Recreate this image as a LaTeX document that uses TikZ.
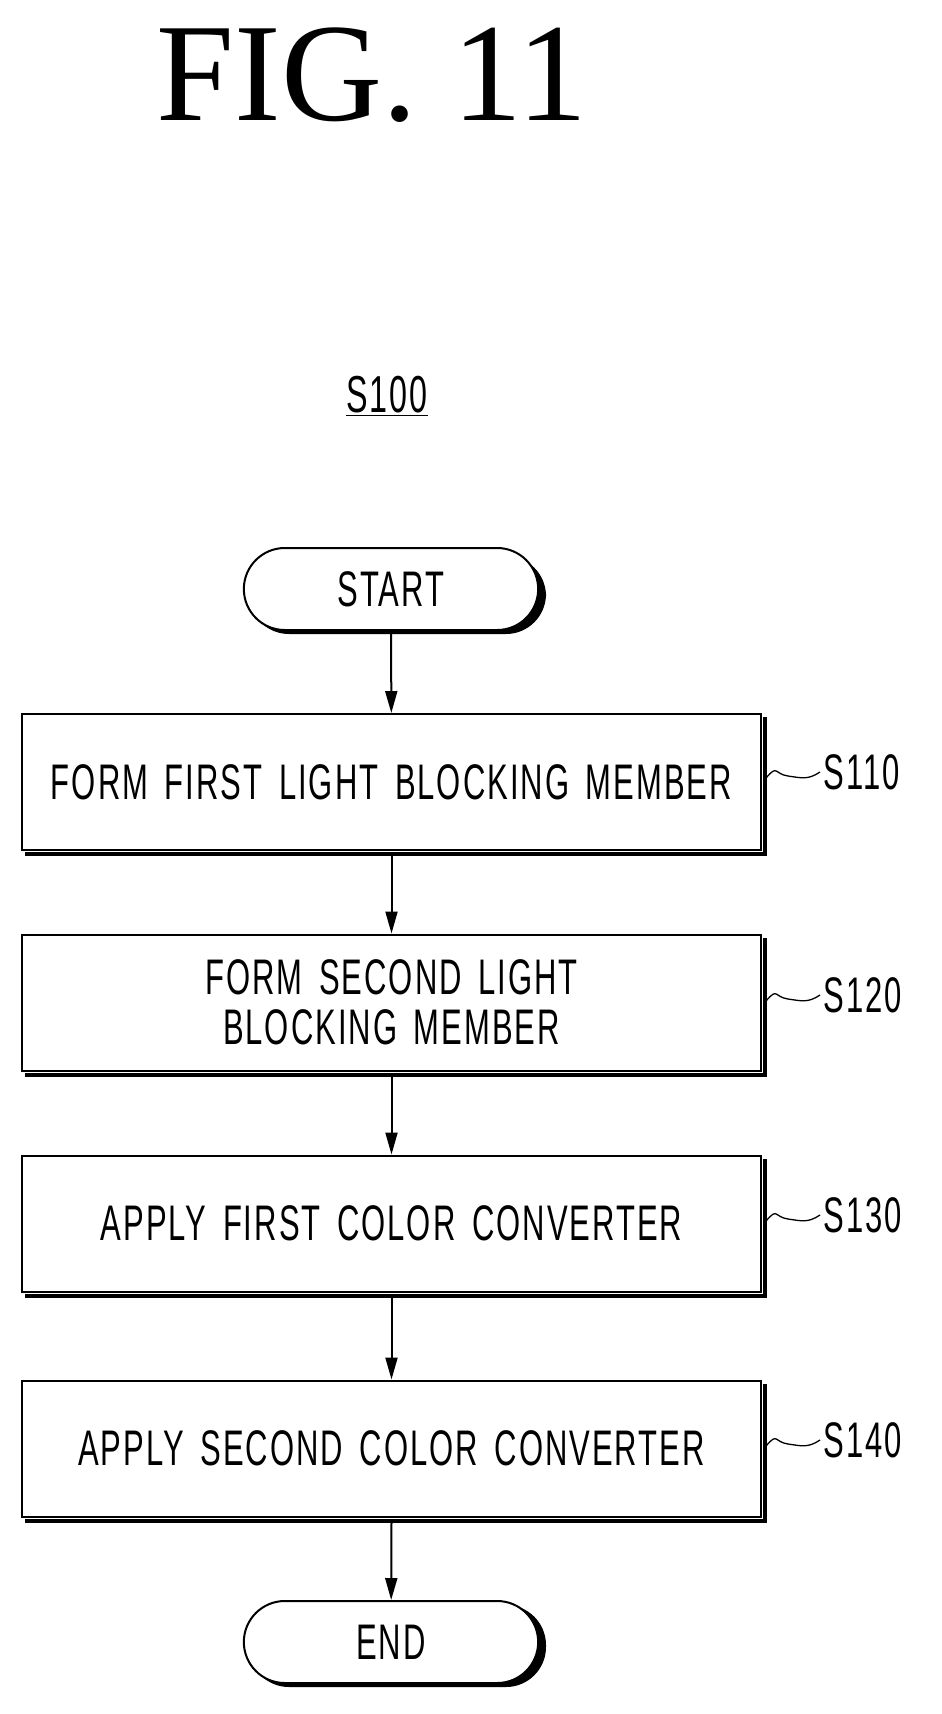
\documentclass[tikz,border=0pt]{standalone}
\usepackage{fontspec}
\setmainfont{Liberation Serif}
\newfontfamily\cond[FakeStretch=0.62,LetterSpace=4,WordSpace=1.5]{Liberation Sans}
\usetikzlibrary{arrows.meta,shapes.misc}
\begin{document}
\begin{tikzpicture}[x=1pt,y=-1pt,
  sbox/.style={draw,line width=2pt,minimum width=739pt,minimum height=136pt,fill=white,
    text width=720pt,align=center,inner sep=0pt,
    font=\cond\fontsize{50}{50}\selectfont},
  term/.style={draw,line width=2pt,rounded rectangle,minimum width=301pt,minimum height=82pt,fill=white,
    font=\cond\fontsize{50}{50}\selectfont},
  arr/.style={-{Triangle[length=22pt,width=12pt]},line width=2pt},
  lab/.style={font=\cond\fontsize{50}{50}\selectfont,anchor=west},
  tl/.style={line width=1.3pt}]
\useasboundingbox (0,0) rectangle (942,1714);
\node[font=\fontsize{140}{140}\selectfont] (title) at (372,75) {FIG. 11};
\node[font=\cond\fontsize{52}{52}\selectfont] (s100) at (387,396) {\underline{S100}};
\fill[rounded corners=40pt] (249,556) rectangle (546,634);
\node[term] (start) at (391,589) {START};
\node[sbox] (b1) at (391.5,782) {FORM FIRST LIGHT BLOCKING MEMBER};
\node[sbox] (b2) at (391.5,1002.5) {FORM SECOND LIGHT BLOCKING MEMBER};
\node[sbox] (b3) at (391.5,1223.5) {APPLY FIRST COLOR CONVERTER};
\node[sbox] (b4) at (391.5,1448.5) {APPLY SECOND COLOR CONVERTER};
\foreach \b in {b1,b2,b3,b4}{
  \fill ([xshift=1pt,yshift=-4pt]\b.north east) rectangle ([xshift=5pt,yshift=-5pt]\b.south east);
  \fill ([xshift=4pt,yshift=-1pt]\b.south west) rectangle ([xshift=5pt,yshift=-5pt]\b.south east);
}
\fill[rounded corners=40pt] (249,1605) rectangle (546,1687);
\node[term] (end) at (391,1642) {END};
\draw[arr] (start) -- (b1);
\draw[arr] ([yshift=-5pt]b1.south) -- (b2);
\draw[arr] ([yshift=-5pt]b2.south) -- (b3);
\draw[arr] ([yshift=-5pt]b3.south) -- (b4);
\draw[arr] ([yshift=-5pt]b4.south) -- (end);
\foreach \b/\t/\y in {b1/S110/772,b2/S120/995,b3/S130/1215,b4/S140/1440}{
  \node[lab] (\t) at (820,\y) {\t};
  \coordinate (\t a) at ([xshift=4pt]\b.east |- 0,\y+6);
  \draw[tl] (\t a) .. controls +(12,-14) and +(-14,-2) .. +(22,-2) .. controls +(14,2) and +(-12,8) .. (\t.west);
}
\end{tikzpicture}
\end{document}
